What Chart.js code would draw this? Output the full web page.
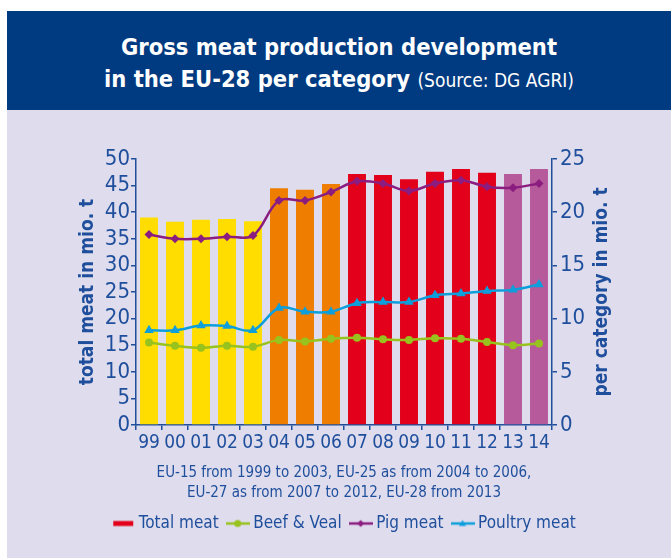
<!DOCTYPE html>
<html>
<head>
<meta charset="utf-8">
<script src="https://cdn.jsdelivr.net/npm/chart.js@4.4.0/dist/chart.umd.min.js"></script>
<style>
  body { margin: 0; background: #ffffff; width: 671px; height: 558px; overflow: hidden; position: relative; }
  #header {
    position: absolute; left: 7px; top: 11px; width: 664px; height: 99px;
    background: #003a80; color: #ffffff; text-align: center;
    font-family: "DejaVu Sans Condensed", "Liberation Sans Narrow", "Roboto", sans-serif;
  }
  #header .l1 { position: absolute; left: 0; right: 0; top: 22px; font-size: 23.5px; font-weight: bold; }
  #header .l2 { position: absolute; left: 0; right: 0; top: 54px; font-size: 23.5px; font-weight: bold; }
  #header .src { font-weight: normal; font-size: 19px; }
  #panel { position: absolute; left: 7px; top: 110px; width: 664px; height: 448px; background: #dedced; }
</style>
</head>
<body>
<div id="header">
  <div class="l1">Gross meat production development</div>
  <div class="l2">in the EU-28 per category <span class="src">(Source: DG AGRI)</span></div>
</div>
<div id="panel"><canvas id="meatChart" width="664" height="448"></canvas></div>
<script>
'use strict'

// Years (2-digit labels) and the EU enlargement period of each year
const years = ['99', '00', '01', '02', '03', '04', '05', '06', '07', '08', '09', '10', '11', '12', '13', '14']
const periods = ['EU-15', 'EU-15', 'EU-15', 'EU-15', 'EU-15', 'EU-25', 'EU-25', 'EU-25',
                 'EU-27', 'EU-27', 'EU-27', 'EU-27', 'EU-27', 'EU-27', 'EU-28', 'EU-28']

// mio. t
const totalMeat = [39.0, 38.2, 38.6, 38.7, 38.3, 44.5, 44.2, 45.3, 47.2, 47.0, 46.2, 47.6, 48.1, 47.4, 47.2, 48.1]
const beefVeal = [7.75, 7.45, 7.25, 7.45, 7.35, 8.0, 7.85, 8.1, 8.2, 8.05, 8.0, 8.15, 8.1, 7.8, 7.5, 7.65]
const pigMeat = [17.9, 17.5, 17.5, 17.7, 17.8, 21.1, 21.1, 21.9, 22.9, 22.7, 22.0, 22.7, 23.0, 22.4, 22.3, 22.7]
const poultryMeat = [8.9, 8.9, 9.35, 9.3, 8.9, 11.0, 10.65, 10.65, 11.45, 11.55, 11.55, 12.2, 12.35, 12.6, 12.7, 13.2]

const footnote = ['EU-15 from 1999 to 2003, EU-25 as from 2004 to 2006,',
                  'EU-27 as from 2007 to 2012, EU-28 from 2013']

const FONT = '"DejaVu Sans Condensed", "Liberation Sans Narrow", "Roboto", sans-serif'
const BLUE = '#1f4f9c'

const periodColors = {
    'EU-15': '#ffdd00',
    'EU-25': '#ee7d00',
    'EU-27': '#e2001a',
    'EU-28': '#b65a9b'
}

const lineColors = {
    beef: '#98c21d',
    pig: '#8c1d80',
    poultry: '#0d9fdc'
}

// small legend images: a line with the marker in the middle
function legendIcon(color, marker) {
    const c = document.createElement('canvas')
    c.width = 24
    c.height = 12
    const ctx = c.getContext('2d')
    ctx.fillStyle = color
    ctx.strokeStyle = color
    if (marker === 'bar') {
        ctx.fillRect(2, 3.5, 20, 5)
        return c
    }
    ctx.lineWidth = 2.5
    ctx.beginPath()
    ctx.moveTo(0, 6)
    ctx.lineTo(24, 6)
    ctx.stroke()
    ctx.beginPath()
    if (marker === 'circle') {
        ctx.arc(12, 6, 3.5, 0, Math.PI * 2)
    } else if (marker === 'diamond') {
        ctx.moveTo(12, 2.5); ctx.lineTo(15.5, 6); ctx.lineTo(12, 9.5); ctx.lineTo(8.5, 6)
    } else {
        ctx.moveTo(12, 2.5); ctx.lineTo(15.5, 8.5); ctx.lineTo(8.5, 8.5)
    }
    ctx.closePath()
    ctx.fill()
    return c
}

const icons = [
    legendIcon(periodColors['EU-27'], 'bar'),
    legendIcon(lineColors.beef, 'circle'),
    legendIcon(lineColors.pig, 'diamond'),
    legendIcon(lineColors.poultry, 'triangle')
]

// right axis title reads bottom-to-top, like the left one
const rightTitle = {
    id: 'rightTitle',
    afterDraw(chart) {
        const { ctx, chartArea } = chart
        const scale = chart.scales.y1
        ctx.save()
        ctx.translate(scale.right - 69, (chartArea.top + chartArea.bottom) / 2)
        ctx.rotate(-Math.PI / 2)
        ctx.font = 'bold 19px ' + FONT
        ctx.fillStyle = BLUE
        ctx.textAlign = 'center'
        ctx.textBaseline = 'middle'
        ctx.fillText('per category in mio. t', 0, 0)
        ctx.restore()
    }
}

function lineDataset(label, data, color, pointStyle, radius) {
    return {
        type: 'line',
        label: label,
        data: data,
        yAxisID: 'y1',
        borderColor: color,
        backgroundColor: color,
        borderWidth: 2.5,
        tension: 0.35,
        pointStyle: pointStyle,
        pointRadius: radius,
        pointBorderWidth: 0,
        order: 1
    }
}

const ctx = document.getElementById('meatChart').getContext('2d')

new Chart(ctx, {
    type: 'bar',
    data: {
        labels: years,
        datasets: [
            {
                label: 'Total meat',
                data: totalMeat,
                yAxisID: 'y',
                backgroundColor: periods.map(p => periodColors[p]),
                categoryPercentage: 1,
                barPercentage: 0.69,
                order: 2
            },
            lineDataset('Beef & Veal', beefVeal, lineColors.beef, 'circle', 4),
            lineDataset('Pig meat', pigMeat, lineColors.pig, 'rectRot', 4.5),
            lineDataset('Poultry meat', poultryMeat, lineColors.poultry, 'triangle', 5.5)
        ]
    },
    options: {
        responsive: false,
        animation: false,
        devicePixelRatio: 1,
        layout: { padding: { left: 14, right: 0, top: 49, bottom: 16 } },
        plugins: {
            tooltip: { enabled: false },
            legend: {
                position: 'bottom',
                labels: {
                    usePointStyle: true,
                    pointStyleWidth: 14,
                    padding: 12,
                    color: BLUE,
                    font: { family: FONT, size: 17 },
                    generateLabels: chart => chart.data.datasets.map((ds, i) => ({
                        text: ds.label,
                        datasetIndex: i,
                        pointStyle: icons[i],
                        fillStyle: 'transparent',
                        strokeStyle: 'transparent',
                        lineWidth: 0,
                        fontColor: BLUE,
                        hidden: false
                    }))
                }
            }
        },
        scales: {
            x: {
                afterFit: scale => { scale.height = 78 },
                grid: { drawOnChartArea: false, offset: true, tickLength: 5, color: BLUE, lineWidth: 1.5 },
                border: { color: BLUE, width: 1.5 },
                ticks: { autoSkip: false, maxRotation: 0, padding: 2, color: BLUE, font: { family: FONT, size: 19 } },
                title: {
                    display: true,
                    text: footnote,
                    color: BLUE,
                    padding: { top: 0, bottom: 0 },
                    font: { family: FONT, size: 15, lineHeight: 1.33 }
                }
            },
            y: {
                position: 'left',
                min: 0,
                max: 50,
                afterFit: scale => { scale.width = 115 },
                grid: { drawOnChartArea: false, tickLength: 5, color: BLUE, lineWidth: 1.5 },
                border: { color: BLUE, width: 1.5 },
                ticks: { stepSize: 5, autoSkip: false, padding: 1, color: BLUE, font: { family: FONT, size: 22 } },
                title: {
                    display: true,
                    text: 'total meat in mio. t',
                    color: BLUE,
                    padding: { top: 56, bottom: 0 },
                    font: { family: FONT, size: 19, weight: 'bold', lineHeight: 1.2 }
                }
            },
            y1: {
                position: 'right',
                min: 0,
                max: 25,
                afterFit: scale => { scale.width = 119 },
                grid: { drawOnChartArea: false, tickLength: 5, color: BLUE, lineWidth: 1.5 },
                border: { color: BLUE, width: 1.5 },
                ticks: { stepSize: 5, autoSkip: false, padding: 3, color: BLUE, font: { family: FONT, size: 22 } }
            }
        }
    },
    plugins: [rightTitle]
})
</script>
</body>
</html>
